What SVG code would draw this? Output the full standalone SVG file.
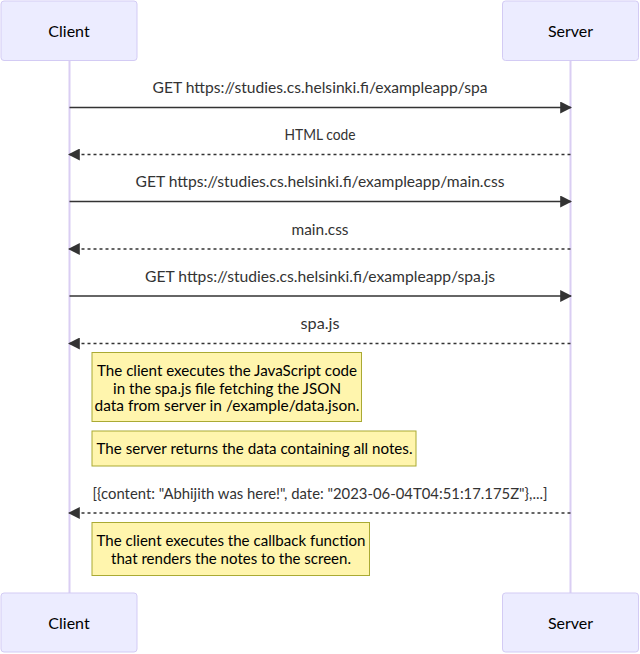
<svg xmlns="http://www.w3.org/2000/svg" width="640" height="654" viewBox="0 0 640 654">
<style>
text{font-family:Lato,"Liberation Sans",sans-serif;font-size:16px;text-anchor:middle}
.actor rect{fill:#ECECFF;stroke:#D3CBF4;stroke-width:1}
.actor text{fill:#000}
.life{stroke:#DACEF3;stroke-width:2}
.msg{stroke:#333;stroke-width:1.5;fill:none}
.dash{stroke-dasharray:3,3}
.mtext{fill:#333}
.note rect{fill:#fff5ad;stroke:#aaaa33;stroke-width:1}
.note text{fill:#000}
</style>
<defs>
<marker id="arrow" viewBox="0 0 10 10" refX="9" refY="5" markerWidth="12" markerHeight="12" markerUnits="userSpaceOnUse" orient="auto">
<path d="M0,0 L10,5 L0,10 z" fill="#333"/>
</marker>
</defs>
<g id="lifelines">
<line class="life" x1="69.5" y1="61" x2="69.5" y2="593"/>
<line class="life" x1="570.5" y1="61" x2="570.5" y2="593"/>
</g>
<g id="actor-client-top" class="actor"><rect x="1" y="1" width="136" height="59.5" rx="3"/><text x="69" y="37">Client</text></g>
<g id="actor-server-top" class="actor"><rect x="502.5" y="1" width="136" height="59.5" rx="3"/><text x="570.5" y="37">Server</text></g>
<g id="actor-client-bottom" class="actor"><rect x="1" y="593" width="136" height="59" rx="3"/><text x="69" y="629">Client</text></g>
<g id="actor-server-bottom" class="actor"><rect x="502.5" y="593" width="136" height="59" rx="3"/><text x="570.5" y="629">Server</text></g>
<g id="connectors">
<line class="msg" x1="69.5" y1="107.5" x2="571" y2="107.5" marker-end="url(#arrow)"/>
<text class="mtext" x="320" y="93" textLength="335" lengthAdjust="spacingAndGlyphs">GET https://studies.cs.helsinki.fi/exampleapp/spa</text>
<line class="msg dash" x1="570.5" y1="154.5" x2="69" y2="154.5" marker-end="url(#arrow)"/>
<text class="mtext" x="320" y="140" textLength="71" lengthAdjust="spacingAndGlyphs">HTML code</text>
<line class="msg" x1="69.5" y1="201.5" x2="571" y2="201.5" marker-end="url(#arrow)"/>
<text class="mtext" x="320" y="187" textLength="369" lengthAdjust="spacingAndGlyphs">GET https://studies.cs.helsinki.fi/exampleapp/main.css</text>
<line class="msg dash" x1="570.5" y1="249" x2="69" y2="249" marker-end="url(#arrow)"/>
<text class="mtext" x="320" y="234.5" textLength="57" lengthAdjust="spacingAndGlyphs">main.css</text>
<line class="msg" x1="69.5" y1="296" x2="571" y2="296" marker-end="url(#arrow)"/>
<text class="mtext" x="320" y="282" textLength="350" lengthAdjust="spacingAndGlyphs">GET https://studies.cs.helsinki.fi/exampleapp/spa.js</text>
<line class="msg dash" x1="570.5" y1="343.5" x2="69" y2="343.5" marker-end="url(#arrow)"/>
<text class="mtext" x="320" y="329" textLength="39" lengthAdjust="spacingAndGlyphs">spa.js</text>
<line class="msg dash" x1="570.5" y1="513" x2="69" y2="513" marker-end="url(#arrow)"/>
<text class="mtext" x="320" y="499" textLength="455" lengthAdjust="spacingAndGlyphs">[{content: "Abhijith was here!", date: "2023-06-04T04:51:17.175Z"},...]</text>
</g>
<g id="note1" class="note"><rect x="92" y="352.5" width="269.5" height="69"/>
<text x="227" y="376" textLength="260" lengthAdjust="spacingAndGlyphs">The client executes the JavaScript code</text>
<text x="227" y="393.5" textLength="228" lengthAdjust="spacingAndGlyphs">in the spa.js file fetching the JSON</text>
<text x="227" y="411" textLength="265" lengthAdjust="spacingAndGlyphs">data from server in /example/data.json.</text>
</g>
<g id="note2" class="note"><rect x="92" y="431" width="324" height="35"/>
<text x="254.5" y="454" textLength="316" lengthAdjust="spacingAndGlyphs">The server returns the data containing all notes.</text>
</g>
<g id="note3" class="note"><rect x="92" y="522.5" width="277.5" height="53"/>
<text x="231" y="545.5" textLength="269" lengthAdjust="spacingAndGlyphs">The client executes the callback function</text>
<text x="231" y="563.5" textLength="240" lengthAdjust="spacingAndGlyphs">that renders the notes to the screen.</text>
</g>
</svg>
